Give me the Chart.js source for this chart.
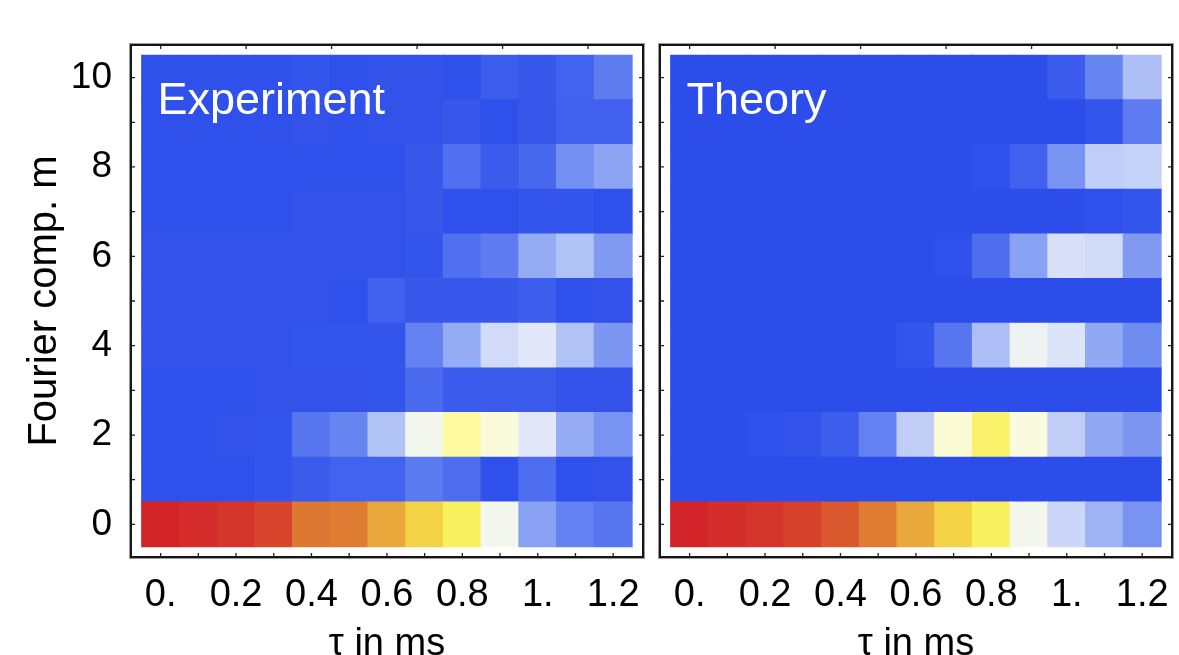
<!DOCTYPE html>
<html><head><meta charset="utf-8">
<script src="https://cdn.jsdelivr.net/npm/chart.js@4.4.1/dist/chart.umd.min.js"></script>
<style>
html,body{margin:0;padding:0;background:#fff;overflow:hidden}
#wrap{position:relative;width:1179px;height:655px}
#c1{position:absolute;left:0;top:0}
#c2{position:absolute;left:650px;top:0}
</style></head><body>
<div id="wrap"><canvas id="c1" width="650" height="655"></canvas><canvas id="c2" width="529" height="655"></canvas></div>
<script>
// ---- data ----
const tauValues = [0, 0.1, 0.2, 0.3, 0.4, 0.5, 0.6, 0.7, 0.8, 0.9, 1.0, 1.1, 1.2];
const mValues = [0, 1, 2, 3, 4, 5, 6, 7, 8, 9, 10];
const xTickValues = [0, 0.2, 0.4, 0.6, 0.8, 1.0, 1.2];
const xTickLabels = ["0.", "0.2", "0.4", "0.6", "0.8", "1.", "1.2"];
const yTickValues = [0, 2, 4, 6, 8, 10];
const yTickLabels = ["0", "2", "4", "6", "8", "10"];
const topFrameTicks = [0, 0.2267, 0.4533, 0.68, 0.9067, 1.1333];

// rows: m = 0 .. 10 ; columns: tau = 0 .. 1.2 (normalised intensity 0..1)
const experiment = [
  [1.0, 0.985, 0.965, 0.945, 0.885, 0.88, 0.81, 0.75, 0.68, 0.5, 0.29, 0.2, 0.15],
  [0.01, 0.01, 0.01, 0.03, 0.05, 0.08, 0.08, 0.17, 0.12, 0.01, 0.12, 0.01, 0.02],
  [0.01, 0.01, 0.02, 0.03, 0.15, 0.21, 0.38, 0.5, 0.62, 0.55, 0.47, 0.32, 0.25],
  [0.01, 0.01, 0.01, 0.02, 0.02, 0.02, 0.03, 0.11, 0.05, 0.05, 0.05, 0.02, 0.02],
  [0.02, 0.02, 0.02, 0.02, 0.03, 0.03, 0.03, 0.2, 0.32, 0.44, 0.47, 0.38, 0.26],
  [0.02, 0.02, 0.02, 0.02, 0.02, 0.01, 0.07, 0.04, 0.04, 0.04, 0.06, 0.01, 0.02],
  [0.02, 0.02, 0.02, 0.02, 0.02, 0.02, 0.02, 0.03, 0.13, 0.18, 0.32, 0.38, 0.27],
  [0.01, 0.01, 0.01, 0.01, 0.02, 0.02, 0.02, 0.04, 0.01, 0.01, 0.03, 0.03, 0.01],
  [0.01, 0.01, 0.01, 0.01, 0.01, 0.01, 0.01, 0.04, 0.13, 0.05, 0.1, 0.24, 0.3],
  [0.01, 0.01, 0.01, 0.01, 0.02, 0.01, 0.02, 0.02, 0.04, 0.01, 0.04, 0.07, 0.07],
  [0.01, 0.01, 0.01, 0.01, 0.03, 0.01, 0.02, 0.02, 0.01, 0.06, 0.04, 0.08, 0.18]
];
const theory = [
  [1.0, 0.98, 0.965, 0.95, 0.925, 0.88, 0.81, 0.75, 0.68, 0.5, 0.43, 0.34, 0.25],
  [0, 0, 0, 0, 0, 0, 0, 0, 0, 0, 0, 0, 0],
  [0, 0, 0.01, 0.02, 0.06, 0.2, 0.41, 0.56, 0.67, 0.54, 0.41, 0.31, 0.26],
  [0, 0, 0, 0, 0, 0, 0, 0, 0, 0, 0, 0, 0],
  [0, 0, 0, 0, 0, 0, 0.03, 0.15, 0.37, 0.49, 0.46, 0.31, 0.23],
  [0, 0, 0, 0, 0, 0, 0, 0, 0, 0, 0, 0, 0],
  [0, 0, 0, 0, 0, 0, 0, 0.01, 0.12, 0.29, 0.45, 0.44, 0.27],
  [0, 0, 0, 0, 0, 0, 0, 0, 0, 0, 0, 0.01, 0.03],
  [0, 0, 0, 0, 0, 0, 0, 0, 0.01, 0.07, 0.25, 0.41, 0.42],
  [0, 0, 0, 0, 0, 0, 0, 0, 0, 0, 0, 0.03, 0.18],
  [0, 0, 0, 0, 0, 0, 0, 0, 0, 0, 0.05, 0.21, 0.37]
];

// ---- colour map (style) ----
const cmapStops = [
  [0.00, 44, 77, 233], [0.10, 72, 104, 238], [0.20, 99, 129, 240], [0.30, 140, 164, 243],
  [0.40, 186, 201, 246], [0.47, 226, 232, 250], [0.50, 244, 247, 238], [0.56, 251, 252, 214],
  [0.62, 253, 250, 160], [0.68, 249, 240, 96], [0.75, 243, 210, 70], [0.81, 232, 168, 60],
  [0.88, 222, 124, 51], [0.93, 216, 84, 44], [0.96, 213, 56, 44], [1.00, 210, 36, 40]
];
function colorFor(v) {
  v = Math.max(0, Math.min(1, v));
  for (let i = 1; i < cmapStops.length; i++) {
    const a = cmapStops[i - 1], b = cmapStops[i];
    if (v <= b[0]) {
      const t = (v - a[0]) / (b[0] - a[0]);
      const c = [1, 2, 3].map(k => Math.round(a[k] + (b[k] - a[k]) * t));
      return `rgb(${c[0]},${c[1]},${c[2]})`;
    }
  }
  return 'rgb(210,36,40)';
}

const FONT = '"Liberation Sans", Arial, Helvetica, sans-serif';

const framePlugin = {
  id: 'frame',
  afterDatasetsDraw(chart, args, opts) {
    const { ctx, chartArea: a } = chart;
    ctx.save();
    ctx.fillStyle = '#ffffff';
    ctx.font = '45px ' + FONT;
    ctx.textBaseline = 'alphabetic';
    ctx.textAlign = 'left';
    ctx.fillText(opts.label, a.left + 26.5, 114);
    ctx.restore();
  },
  afterDraw(chart) {
    const { ctx, chartArea: a, scales: { x, y } } = chart;
    ctx.save();
    ctx.strokeStyle = '#222';
    ctx.lineWidth = 1.3;
    ctx.beginPath();
    tauValues.forEach(t => { const p = x.getPixelForValue(t); ctx.moveTo(p, a.bottom); ctx.lineTo(p, a.bottom - 4); });
    topFrameTicks.forEach(t => { const p = x.getPixelForValue(t); ctx.moveTo(p, a.top); ctx.lineTo(p, a.top + 4); });
    mValues.forEach(m => { const p = y.getPixelForValue(m);
      ctx.moveTo(a.left, p); ctx.lineTo(a.left + 4, p);
      ctx.moveTo(a.right, p); ctx.lineTo(a.right - 4, p); });
    ctx.stroke();
    ctx.strokeStyle = '#9a9a9a';
    ctx.lineWidth = 1;
    ctx.strokeRect(a.left - 1.5, a.top - 1.5, a.right - a.left + 3, a.bottom - a.top + 3);
    ctx.strokeStyle = '#151515';
    ctx.lineWidth = 2;
    ctx.strokeRect(a.left, a.top, a.right - a.left, a.bottom - a.top);
    ctx.restore();
  }
};

function makeChart(canvasId, grid, label, showY, padding) {
  const datasets = mValues.map(m => ({
    type: 'bar',
    data: tauValues.map(t => ({ x: t, y: [m - 0.5, m + 0.5] })),
    backgroundColor: grid[m].map(colorFor),
    borderWidth: 0,
    barPercentage: 1,
    categoryPercentage: 1,
    grouped: false,
    inflateAmount: 0.6
  }));
  return new Chart(document.getElementById(canvasId), {
    type: 'bar',
    data: { datasets },
    plugins: [framePlugin],
    options: {
      responsive: false,
      animation: false,
      devicePixelRatio: 1,
      layout: { padding },
      plugins: { legend: { display: false }, tooltip: { enabled: false }, frame: { label } },
      scales: {
        x: {
          type: 'linear', min: -0.0785, max: 1.279, offset: false,
          afterBuildTicks: ax => { ax.ticks = xTickValues.map(v => ({ value: v })); },
          afterFit: ax => { ax.height = 98; ax.paddingLeft = 0; ax.paddingRight = 0; },
          grid: { display: false }, border: { display: false },
          ticks: { autoSkip: false, maxRotation: 0, padding: 8, color: '#000',
            font: { family: FONT, size: 38 }, callback: (v, i) => xTickLabels[i] },
          title: { display: true, text: 'τ in ms', color: '#000',
            font: { family: FONT, size: 38, lineHeight: 0.55 }, padding: { top: 0, bottom: 0 } }
        },
        y: {
          type: 'linear', min: -0.73, max: 10.73, display: showY,
          afterBuildTicks: ax => { ax.ticks = yTickValues.map(v => ({ value: v })); },
          afterFit: ax => { ax.width = showY ? 131 : 0; ax.paddingTop = 0; ax.paddingBottom = 0; },
          grid: { display: false }, border: { display: false },
          ticks: { padding: 11, color: '#000', font: { family: FONT, size: 37 },
            callback: (v, i) => yTickLabels[i] },
          title: { display: true, text: 'Fourier comp. m', color: '#000',
            font: { family: FONT, size: 40 }, padding: { top: 21, bottom: 0 } }
        }
      }
    }
  });
}

makeChart('c1', experiment, 'Experiment', true, { left: 0, right: 7, top: 45, bottom: 0 });
makeChart('c2', theory, 'Theory', false, { left: 10, right: 7, top: 45, bottom: 0 });
</script>
</body></html>
